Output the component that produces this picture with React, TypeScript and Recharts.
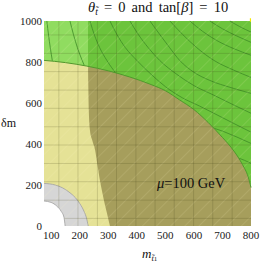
import React from 'react';
import {
  ComposedChart,
  Area,
  Line,
  XAxis,
  YAxis,
  ReferenceArea,
  ReferenceLine,
} from 'recharts';

// frame ranges
const mRange = [75, 800];
const dmRange = [0, 1000];

const xMajorTicks = [100, 200, 300, 400, 500, 600, 700, 800];
const xMinorTicks = [
  80, 100, 120, 140, 160, 180, 200, 220, 240, 260, 280, 300, 320, 340, 360, 380, 400, 420, 440,
  460, 480, 500, 520, 540, 560, 580, 600, 620, 640, 660, 680, 700, 720, 740, 760, 780, 800,
];
const yMajorTicks = [0, 200, 400, 600, 800, 1000];
const yMinorTicks = [
  0, 50, 100, 150, 200, 250, 300, 350, 400, 450, 500, 550, 600, 650, 700, 750, 800, 850, 900,
  950, 1000,
];

// mesh lines of the region plot
const meshM = [127, 194, 262, 329, 397, 464, 531, 599, 666, 734];
const meshDm = [37, 126, 216, 305, 395, 484, 574, 663, 753, 842, 932];

// region boundaries [m, dm]
const greenEdge = [
  [75, 808], [150, 797], [225, 780], [300, 757], [375, 727], [450, 690], [500, 660], [550, 615],
  [600, 568], [650, 505], [700, 432], [740, 366], [770, 300], [790, 240], [800, 188],
];
const lightGreenSpan = [75, 229];
const yellowEdge = [
  [75, 808], [150, 797], [225, 780], [229, 779], [230, 700], [232, 560], [236, 466], [244, 418],
  [254, 371], [262, 300], [271, 222], [278, 172], [285, 125], [296, 60], [306, 0],
];
const grayEdge = [
  [75, 208], [114, 200], [140, 186], [166, 162], [185, 138], [201, 108], [215, 72], [224, 38],
  [230, 0],
];
const whiteEdge = [[75, 122], [100, 115], [120, 97], [135, 72], [145, 42], [149, 0]];

// contour lines in the green region
const contour1 = [[85, 1000], [91, 930], [97, 870], [104, 808], [112, 740]];
const contour2 = [
  [166, 1000], [178, 935], [192, 870], [208, 810], [230, 740], [300, 600], [400, 490],
  [500, 420], [600, 378], [700, 352], [754, 333], [800, 306],
];
const contour3 = [
  [236, 1000], [252, 930], [270, 870], [295, 808], [330, 740], [400, 650], [500, 570],
  [600, 510], [702, 462], [800, 403],
];
const contour4 = [
  [306, 1000], [330, 935], [360, 870], [400, 808], [450, 740], [500, 680], [560, 625],
  [620, 585], [667, 552], [740, 500], [800, 458],
];
const contour5 = [
  [376, 1000], [405, 935], [440, 870], [480, 808], [540, 740], [600, 685], [667, 640],
  [740, 590], [800, 550],
];
const contour6 = [
  [446, 1000], [480, 935], [515, 870], [550, 808], [600, 750], [656, 710], [730, 675],
  [800, 647],
];
const contour7 = [[516, 1000], [560, 935], [610, 870], [670, 808], [740, 760], [800, 725]];
const contour8 = [[586, 1000], [630, 950], [680, 905], [740, 865], [800, 833]];
const contour9 = [[656, 1000], [700, 962], [750, 927], [800, 896]];
const contour10 = [[726, 1000], [760, 973], [800, 946]];
const contours = [
  contour1, contour2, contour3, contour4, contour5, contour6, contour7, contour8, contour9,
  contour10,
];

const rows = (pts: number[][]) => pts.map(([m, dm]) => ({ m, dm }));

const serif = '"Liberation Serif", serif';
const frame = '#8c8c8c';
const darkGreen = '#6cc43c';
const lightGreen = '#90dc60';
const olive = '#a69e5c';
const yellow = '#e5e296';
const gray = '#d6d6d6';

export default function App() {
  const tickAxis = { tick: false as const, interval: 0 as const, stroke: frame, mirror: true };
  const labelTick = { fontSize: 11, fill: '#1a1a1a' };
  return (
    <div style={{ position: 'absolute', left: 0, top: 0, width: 260, height: 263, background: '#fff', fontFamily: serif }}>
      <style>{`.recharts-cartesian-axis-tick-value { font-family: "Liberation Serif", serif; }`}</style>
      <ComposedChart width={260} height={263} margin={{ top: 21, right: 9, bottom: 0, left: 0 }}>
        <defs>
          <pattern id="hatch" width="10" height="10" patternUnits="userSpaceOnUse" patternTransform="rotate(45)">
            <line x1="0" y1="0" x2="0" y2="10" stroke="#fffbc8" strokeOpacity={0.3} strokeWidth={0.8} />
          </pattern>
        </defs>

        <XAxis
          dataKey="m"
          type="number"
          domain={mRange}
          ticks={xMajorTicks}
          interval={0}
          height={37}
          tickLine={false}
          axisLine={false}
          tickSize={0}
          tickMargin={5}
          tick={labelTick}
        />
        <YAxis
          type="number"
          domain={dmRange}
          ticks={yMajorTicks}
          interval={0}
          width={44}
          tickLine={false}
          axisLine={false}
          tickSize={0}
          tickMargin={2}
          tick={labelTick}
        />
        <XAxis xAxisId="xb1" orientation="bottom" type="number" domain={mRange} ticks={xMajorTicks} height={0} tickSize={4} {...tickAxis} />
        <XAxis xAxisId="xb2" orientation="bottom" type="number" domain={mRange} ticks={xMinorTicks} height={0} tickSize={2} axisLine={false} {...tickAxis} />
        <XAxis xAxisId="xt1" orientation="top" type="number" domain={mRange} ticks={xMajorTicks} height={0} tickSize={4} {...tickAxis} />
        <XAxis xAxisId="xt2" orientation="top" type="number" domain={mRange} ticks={xMinorTicks} height={0} tickSize={2} axisLine={false} {...tickAxis} />
        <YAxis yAxisId="yl1" orientation="left" type="number" domain={dmRange} ticks={yMajorTicks} width={0} tickSize={4} {...tickAxis} />
        <YAxis yAxisId="yl2" orientation="left" type="number" domain={dmRange} ticks={yMinorTicks} width={0} tickSize={2} axisLine={false} {...tickAxis} />
        <YAxis yAxisId="yr1" orientation="right" type="number" domain={dmRange} ticks={yMajorTicks} width={0} tickSize={4} {...tickAxis} />
        <YAxis yAxisId="yr2" orientation="right" type="number" domain={dmRange} ticks={yMinorTicks} width={0} tickSize={2} axisLine={false} {...tickAxis} />

        {/* green region, lighter where it overlaps the yellow one */}
        <ReferenceArea x1={mRange[0]} x2={mRange[1]} y1={dmRange[0]} y2={dmRange[1]} fill={darkGreen} fillOpacity={1} stroke="none" zIndex={1} />
        <ReferenceArea x1={lightGreenSpan[0]} x2={lightGreenSpan[1]} y1={dmRange[0]} y2={dmRange[1]} fill={lightGreen} fillOpacity={1} stroke="none" zIndex={2} />

        {contours.map((c, i) => (
          <Line
            key={i}
            data={rows(c)}
            dataKey="dm"
            type="monotone"
            stroke="#3e8c26"
            strokeWidth={0.8}
            dot={false}
            activeDot={false}
            isAnimationActive={false}
            zIndex={3}
          />
        ))}

        <Area data={rows(greenEdge)} dataKey="dm" type="monotone" fill={olive} fillOpacity={1} stroke="none" isAnimationActive={false} activeDot={false} zIndex={4} />
        <Area data={rows(yellowEdge)} dataKey="dm" type="monotone" fill={yellow} fillOpacity={1} stroke="none" isAnimationActive={false} activeDot={false} zIndex={5} />
        <Area data={rows(grayEdge)} dataKey="dm" type="monotone" fill={gray} fillOpacity={1} stroke="#a0a0a0" strokeWidth={0.8} isAnimationActive={false} activeDot={false} zIndex={6} />

        <ReferenceArea x1={mRange[0]} x2={mRange[1]} y1={dmRange[0]} y2={dmRange[1]} fill="url(#hatch)" fillOpacity={1} stroke="none" zIndex={7} />

        {meshM.map((m) => (
          <ReferenceLine key={'m' + m} x={m} stroke="#3a3a10" strokeOpacity={0.22} strokeWidth={0.8} zIndex={8} />
        ))}
        {meshDm.map((d) => (
          <ReferenceLine key={'d' + d} y={d} stroke="#3a3a10" strokeOpacity={0.22} strokeWidth={0.8} zIndex={8} />
        ))}

        <Area data={rows(whiteEdge)} dataKey="dm" type="monotone" fill="#ffffff" fillOpacity={1} stroke="#a0a0a0" strokeWidth={0.8} isAnimationActive={false} activeDot={false} zIndex={9} />
        <Line data={rows(greenEdge)} dataKey="dm" type="monotone" stroke="#4f9a2c" strokeWidth={1} dot={false} activeDot={false} isAnimationActive={false} zIndex={10} />

        <ReferenceArea x1={796} x2={800} y1={996} y2={1014} fill="#f4e800" fillOpacity={1} stroke="none" ifOverflow="visible" zIndex={11} />
      </ComposedChart>

      <div style={{ position: 'absolute', left: 88, top: 0, fontSize: 14.5, lineHeight: '14px', wordSpacing: 2.5, whiteSpace: 'nowrap', color: '#111' }}>
        <i>θ</i>
        <span style={{ fontSize: 9.5, position: 'relative', top: 3 }}>
          <i>t̃</i>
        </span>
        {' = 0 and tan['}
        <i>β</i>
        {'] = 10'}
      </div>
      <div style={{ position: 'absolute', left: 1, top: 117, fontSize: 12, lineHeight: '12px', whiteSpace: 'nowrap', color: '#111' }}>
        δm
      </div>
      <div style={{ position: 'absolute', left: 157, top: 176, fontSize: 14.5, lineHeight: '14px', whiteSpace: 'nowrap', color: '#111' }}>
        <i>μ</i>=100 GeV
      </div>
      <div style={{ position: 'absolute', left: 142, top: 247, fontSize: 13, lineHeight: '13px', whiteSpace: 'nowrap', color: '#111' }}>
        <i>m</i>
        <span style={{ fontSize: 8.5, position: 'relative', top: 3 }}>
          <i>t̃</i>
          <span style={{ fontSize: 7 }}>1</span>
        </span>
      </div>
    </div>
  );
}
